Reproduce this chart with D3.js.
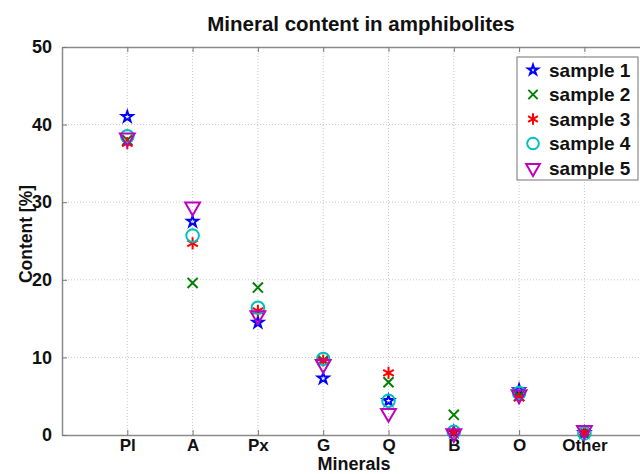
<!DOCTYPE html>
<html>
<head>
<meta charset="utf-8">
<script src="https://cdn.jsdelivr.net/npm/d3@7"></script>
<style>
  body { margin: 0; background: #fff; }
  svg text { font-family: "Liberation Sans", Arial, sans-serif; font-weight: bold; fill: #111; }
</style>
</head>
<body>
<script>
// data
const minerals = ["Pl", "A", "Px", "G", "Q", "B", "O", "Other"];
const sample1 = [41.0, 27.5, 14.5, 7.3, 4.4, 0.4, 5.8, 0.3];
const sample2 = [38.0, 19.6, 19.0, 9.6, 6.8, 2.6, 5.0, 0.3];
const sample3 = [37.6, 24.7, 16.0, 9.6, 8.0, 0.3, 4.8, 0.4];
const sample4 = [38.5, 25.7, 16.4, 9.8, 4.4, 0.4, 5.4, 0.2];
const sample5 = [38.3, 29.4, 15.4, 9.1, 2.8, 0.2, 5.2, 0.6];
const yTicks = [0, 10, 20, 30, 40, 50];

const series = [
  { name: "sample 1", values: sample1, color: "#0000ff", sym: d3.symbolStar, size: 36, rot: 0 },
  { name: "sample 2", values: sample2, color: "#008000", sym: d3.symbolX, size: 68, rot: 0 },
  { name: "sample 3", values: sample3, color: "#ff0000", sym: d3.symbolAsterisk, size: 105, rot: 0 },
  { name: "sample 4", values: sample4, color: "#00bfbf", sym: d3.symbolCircle, size: 125, rot: 0 },
  { name: "sample 5", values: sample5, color: "#bf00bf", sym: d3.symbolTriangle, size: 95, rot: 180 }
];

const W = 640, H = 474;
const m = { left: 62, top: 47, bottom: 39 };
const plotW = 9 * 65.3;   // axis runs past the right edge, like the picture
const plotH = H - m.top - m.bottom;

const svg = d3.select("body").append("svg").attr("width", W).attr("height", H);

const x = d3.scaleLinear().domain([0, 9]).range([m.left, m.left + plotW]);
const y = d3.scaleLinear().domain([0, 50]).range([m.top + plotH, m.top]);

// grid
const grid = svg.append("g").attr("stroke", "#c8c8c8").attr("stroke-dasharray", "1,2");
grid.selectAll(".gx").data(d3.range(1, 9)).enter().append("line")
  .attr("x1", d => x(d)).attr("x2", d => x(d))
  .attr("y1", y(0)).attr("y2", y(50));
grid.selectAll(".gy").data(yTicks.slice(1, -1)).enter().append("line")
  .attr("x1", x(0)).attr("x2", x(9))
  .attr("y1", d => y(d)).attr("y2", d => y(d));

// axes
const xAxis = d3.axisBottom(x).tickValues(d3.range(1, 9))
  .tickFormat(d => minerals[d - 1]).tickSizeInner(-5).tickSizeOuter(0);
const gx = svg.append("g").attr("transform", `translate(0,${y(0)})`).call(xAxis);
const xTop = d3.axisTop(x).tickValues(d3.range(1, 9)).tickFormat("").tickSizeInner(-5).tickSizeOuter(0);
const gxt = svg.append("g").attr("transform", `translate(0,${y(50)})`).call(xTop);
const yAxis = d3.axisLeft(y).tickValues(yTicks).tickSizeInner(-5).tickSizeOuter(0).tickPadding(10);
const gy = svg.append("g").attr("transform", `translate(${x(0)},0)`).call(yAxis);

[gx, gxt, gy].forEach(g => {
  g.select(".domain").attr("stroke", "#8a8a8a").attr("stroke-width", 1.5);
  g.selectAll(".tick line").attr("stroke", "#777");
  g.selectAll(".tick text").attr("font-size", 18).attr("font-family", "Liberation Sans, Arial, sans-serif")
    .attr("font-weight", "bold").attr("fill", "#111");
});
gx.selectAll(".tick text").attr("y", 15.5).attr("dy", null).attr("font-size", 17);

// markers
series.forEach(s => {
  svg.append("g").selectAll("path").data(s.values).enter().append("path")
    .attr("d", d3.symbol(s.sym, s.size))
    .attr("transform", (d, i) => `translate(${x(i + 1)},${y(d)}) rotate(${s.rot})`)
    .attr("fill", "none").attr("stroke", s.color).attr("stroke-width", 2);
});

// legend
const lg = svg.append("g");
lg.append("rect").attr("x", 517).attr("y", 57).attr("width", 121).attr("height", 123)
  .attr("fill", "#fff").attr("stroke", "#8a8a8a").attr("stroke-width", 1.2);
series.forEach((s, i) => {
  const ly = 70 + i * 24.5;
  lg.append("path").attr("d", d3.symbol(s.sym, s.size * 0.85))
    .attr("transform", `translate(533,${ly}) rotate(${s.rot})`)
    .attr("fill", "none").attr("stroke", s.color).attr("stroke-width", 2);
  lg.append("text").attr("x", 549).attr("y", ly + 6.5).attr("font-size", 19).text(s.name);
});

// titles
svg.append("text").attr("x", 361).attr("y", 31).attr("text-anchor", "middle")
  .attr("font-size", 20.5).text("Mineral content in amphibolites");
svg.append("text").attr("transform", `translate(32,234) rotate(-90)`)
  .attr("text-anchor", "middle").attr("font-size", 17.5).text("Content [%]");
svg.append("text").attr("x", 354).attr("y", 470.3).attr("text-anchor", "middle")
  .attr("font-size", 18).text("Minerals");
</script>
</body>
</html>
